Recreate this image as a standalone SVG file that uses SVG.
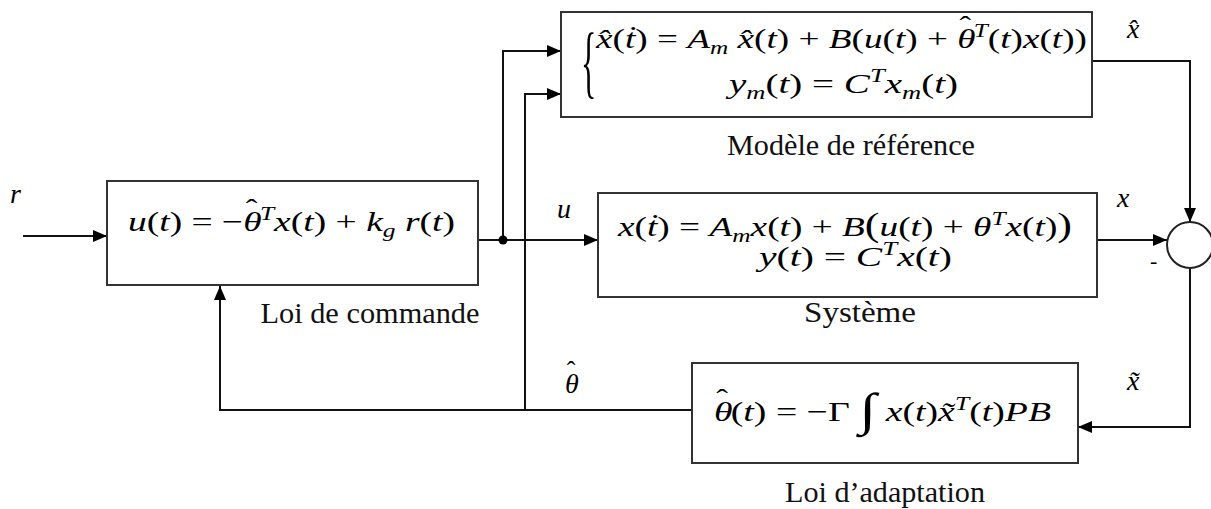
<svg xmlns="http://www.w3.org/2000/svg" width="1211" height="509" viewBox="0 0 1211 509">
<style>
.box{fill:#fff;stroke:#333;stroke-width:2}
.ln{fill:none;stroke:#111;stroke-width:2}
.m{font-size:28px;fill:#000}
.i{font-style:italic}
.s{font-size:19px}
.h{font-size:26px;font-style:normal}
.lab{font-size:30px;fill:#111}
</style>
<defs>
<marker id="ah" markerWidth="14" markerHeight="12" refX="14" refY="6" orient="auto" markerUnits="userSpaceOnUse"><path d="M0,0 L14,6 L0,12 z" fill="#000"/></marker>
</defs>
<g id="connectors" font-family="'Liberation Serif', 'Times New Roman', serif">
<path class="ln" d="M23,236 H107" marker-end="url(#ah)"/>
<path class="ln" d="M478,240 H598" marker-end="url(#ah)"/>
<path class="ln" d="M503,240 V51 H561" marker-end="url(#ah)"/>
<path class="ln" d="M525,410 V94 H561" marker-end="url(#ah)"/>
<path class="ln" d="M692,410 H220 V286" marker-end="url(#ah)"/>
<path class="ln" d="M1092,61 H1190 V222" marker-end="url(#ah)"/>
<path class="ln" d="M1097,240 H1167" marker-end="url(#ah)"/>
<path class="ln" d="M1190,268 V427 H1078" marker-end="url(#ah)"/>
<circle cx="503" cy="240" r="4.5" fill="#000"/>
<text class="m" x="10" y="203" font-family="'Liberation Serif', serif"><tspan class="i">r</tspan></text>
<text class="m" x="557" y="218" font-family="'Liberation Serif', serif"><tspan class="i">u</tspan></text>
<text class="m" x="1117" y="207" font-family="'Liberation Serif', serif"><tspan class="i">x</tspan></text>
<text class="m" x="1127" y="38" font-family="'Liberation Serif', serif"><tspan class="i">x̂</tspan></text>
<text class="m" x="1127" y="390" font-family="'Liberation Serif', serif"><tspan class="i">x̃</tspan></text>
<text class="m" x="565" y="393" font-family="'Liberation Serif', serif"><tspan class="i">θ</tspan><tspan class="h" dx="-12" dy="-14">ˆ</tspan></text>
</g>
<g id="control" font-family="'Liberation Serif', 'Times New Roman', serif">
<rect class="box" x="107" y="181" width="371" height="104"/>
<text class="m" x="128" y="231" font-family="'Liberation Serif', serif" textLength="327" lengthAdjust="spacingAndGlyphs"><tspan class="i">u</tspan>(<tspan class="i">t</tspan>) = −<tspan class="i">θ</tspan><tspan class="h" dx="-12" dy="-14">ˆ</tspan><tspan class="i s" dx="2" dy="3">T</tspan><tspan class="i" dy="11">x</tspan>(<tspan class="i">t</tspan>) + <tspan class="i">k</tspan><tspan class="i s" dy="6">g</tspan><tspan class="i" dy="-6"> r</tspan>(<tspan class="i">t</tspan>)</text>
<text class="lab" x="370" y="323" font-family="'Liberation Serif', serif" text-anchor="middle" textLength="219" lengthAdjust="spacingAndGlyphs">Loi de commande</text>
</g>
<g id="model" font-family="'Liberation Serif', 'Times New Roman', serif">
<rect class="box" x="561" y="12" width="531" height="105"/>
<text class="m" transform="translate(581,88) scale(1,2.5)" font-family="'Liberation Serif', serif" style="font-size:32px">{</text>
<text class="m" x="596" y="48" font-family="'Liberation Serif', serif" textLength="491" lengthAdjust="spacingAndGlyphs"><tspan class="i">x̂</tspan>(<tspan class="i">ṫ</tspan>) = <tspan class="i">A</tspan><tspan class="i s" dy="6">m</tspan><tspan dy="-6"> </tspan><tspan class="i">x̂</tspan>(<tspan class="i">t</tspan>) + <tspan class="i">B</tspan>(<tspan class="i">u</tspan>(<tspan class="i">t</tspan>) + <tspan class="i">θ</tspan><tspan class="h" dx="-12" dy="-14">ˆ</tspan><tspan class="i s" dx="2" dy="3">T</tspan><tspan dy="11">(</tspan><tspan class="i">t</tspan>)<tspan class="i">x</tspan>(<tspan class="i">t</tspan>))</text>
<text class="m" x="729" y="93" font-family="'Liberation Serif', serif" textLength="229" lengthAdjust="spacingAndGlyphs"><tspan class="i">y</tspan><tspan class="i s" dy="6">m</tspan><tspan dy="-6">(</tspan><tspan class="i">t</tspan>) = <tspan class="i">C</tspan><tspan class="i s" dy="-11">T</tspan><tspan class="i" dy="11">x</tspan><tspan class="i s" dy="6">m</tspan><tspan dy="-6">(</tspan><tspan class="i">t</tspan>)</text>
<text class="lab" x="851" y="155" font-family="'Liberation Serif', serif" text-anchor="middle" textLength="248" lengthAdjust="spacingAndGlyphs">Modèle de référence</text>
</g>
<g id="system" font-family="'Liberation Serif', 'Times New Roman', serif">
<rect class="box" x="598" y="193" width="499" height="104"/>
<text class="m" x="618" y="236" font-family="'Liberation Serif', serif" textLength="454" lengthAdjust="spacingAndGlyphs"><tspan class="i">x</tspan>(<tspan class="i">ṫ</tspan>) = <tspan class="i">A</tspan><tspan class="i s" dy="6">m</tspan><tspan class="i" dy="-6">x</tspan>(<tspan class="i">t</tspan>) + <tspan class="i">B</tspan><tspan style="font-size:33px">(</tspan><tspan class="i">u</tspan>(<tspan class="i">t</tspan>) + <tspan class="i">θ</tspan><tspan class="i s" dy="-11">T</tspan><tspan class="i" dy="11">x</tspan>(<tspan class="i">t</tspan>)<tspan style="font-size:33px">)</tspan></text>
<text class="m" x="759" y="266" font-family="'Liberation Serif', serif" textLength="193" lengthAdjust="spacingAndGlyphs"><tspan class="i">y</tspan>(<tspan class="i">t</tspan>) = <tspan class="i">C</tspan><tspan class="i s" dy="-11">T</tspan><tspan class="i" dy="11">x</tspan>(<tspan class="i">t</tspan>)</text>
<text class="lab" x="860" y="322" font-family="'Liberation Serif', serif" text-anchor="middle" textLength="112" lengthAdjust="spacingAndGlyphs">Système</text>
</g>
<g id="sum" font-family="'Liberation Serif', 'Times New Roman', serif">
<circle cx="1190" cy="245" r="23" fill="#fff" stroke="#222" stroke-width="2"/>
<text class="m" x="1150" y="268" font-family="'Liberation Serif', serif" style="font-size:22px">-</text>
</g>
<g id="adaptation" font-family="'Liberation Serif', 'Times New Roman', serif">
<rect class="box" x="692" y="363" width="386" height="100"/>
<text class="m" x="714" y="421" font-family="'Liberation Serif', serif" textLength="337" lengthAdjust="spacingAndGlyphs"><tspan class="i">θ</tspan><tspan class="h" dx="-12" dy="-14">ˆ</tspan><tspan dx="2" dy="14">(</tspan><tspan class="i">t</tspan>) = −Γ <tspan style="font-size:46px" dy="4">∫</tspan><tspan dy="-4"> </tspan><tspan class="i">x</tspan>(<tspan class="i">t</tspan>)<tspan class="i">x̃</tspan><tspan class="i s" dy="-11">T</tspan><tspan dy="11">(</tspan><tspan class="i">t</tspan>)<tspan class="i">PB</tspan></text>
<text class="lab" x="885" y="502" font-family="'Liberation Serif', serif" text-anchor="middle" textLength="200" lengthAdjust="spacingAndGlyphs">Loi d’adaptation</text>
</g>
</svg>
